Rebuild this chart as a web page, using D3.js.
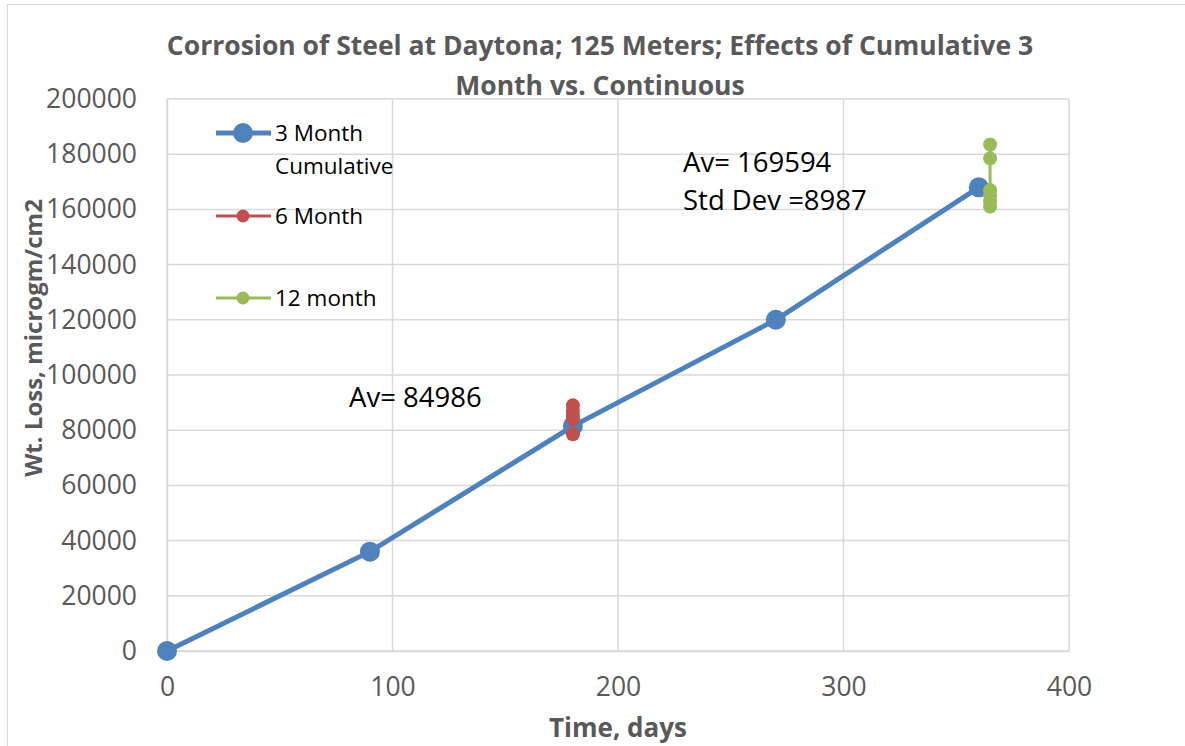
<!DOCTYPE html>
<html><head><meta charset="utf-8">
<script src="https://cdn.jsdelivr.net/npm/d3@7"></script>
<style>body{margin:0;background:#fff}svg{display:block}</style>
</head><body>
<svg id="c" width="1185" height="746"></svg>
<script>
const cumDays = [0, 90, 180, 270, 360];
const cumLoss = [0, 36000, 81500, 120000, 168000];
const sixDays = [180, 180, 180, 180, 180];
const sixLoss = [89000, 87000, 85500, 84000, 78500];
const twelveDays = [365, 365, 365, 365, 365, 365];
const twelveLoss = [183500, 178500, 167000, 165000, 163000, 161000];
const xTicks = [0, 100, 200, 300, 400];
const yTicks = [0, 20000, 40000, 60000, 80000, 100000, 120000, 140000, 160000, 180000, 200000];
const titleLines = ["Corrosion of Steel at Daytona; 125 Meters; Effects of Cumulative 3", "Month vs. Continuous"];
const legendNames = ["3 Month", "6 Month", "12 month"];

const svg = d3.select("#c");
const L = 167, R = 1069, T = 99, B = 651;
const x = d3.scaleLinear().domain([0, 400]).range([L, R]);
const y = d3.scaleLinear().domain([0, 200000]).range([B, T]);
const grey = "#595959";
const font = "'Open Sans', sans-serif";

// chart border
svg.append("rect").attr("x", 7.5).attr("y", 4.5).attr("width", 1200).attr("height", 800)
  .attr("fill", "none").attr("stroke", "#d9d9d9");

// gridlines
svg.append("g").selectAll("line").data(yTicks).join("line")
  .attr("x1", L).attr("x2", R).attr("y1", d => y(d)).attr("y2", d => y(d))
  .attr("stroke", "#d9d9d9").attr("stroke-width", 1.5);
svg.append("g").selectAll("line").data(xTicks).join("line")
  .attr("y1", T).attr("y2", B).attr("x1", d => x(d)).attr("x2", d => x(d))
  .attr("stroke", "#d9d9d9").attr("stroke-width", 1.5);

// axes
const xa = svg.append("g").attr("transform", `translate(0,${B})`)
  .call(d3.axisBottom(x).tickValues(xTicks).tickSize(0).tickPadding(26));
const ya = svg.append("g").attr("transform", `translate(${L},0)`)
  .call(d3.axisLeft(y).tickValues(yTicks).tickSize(0).tickPadding(30).tickFormat(d3.format("d")));
[xa, ya].forEach(a => {
  a.select(".domain").attr("stroke", "#d9d9d9").attr("stroke-width", 1.5);
  a.selectAll("text").attr("fill", grey).attr("font-family", font).attr("font-size", 26.5);
});

// series
const pts = (xs, ys) => xs.map((d, i) => [d, ys[i]]);
const line = d3.line().x(d => x(d[0])).y(d => y(d[1]));
const series = [
  {data: pts(cumDays, cumLoss), color: "#4f81bd", w: 5, r: 10},
  {data: pts(sixDays, sixLoss), color: "#c0504d", w: 3, r: 7},
  {data: pts(twelveDays, twelveLoss), color: "#9bbb59", w: 3, r: 7}
];
series.forEach(s => {
  svg.append("path").attr("d", line(s.data)).attr("fill", "none")
    .attr("stroke", s.color).attr("stroke-width", s.w);
  svg.append("g").selectAll("circle").data(s.data).join("circle")
    .attr("cx", d => x(d[0])).attr("cy", d => y(d[1])).attr("r", s.r).attr("fill", s.color);
});

// legend
const leg = [
  {y: 133, color: "#4f81bd", w: 5, r: 10},
  {y: 216, color: "#c0504d", w: 3, r: 6.5},
  {y: 298, color: "#9bbb59", w: 3, r: 6.5}
];
leg.forEach((l, i) => {
  svg.append("line").attr("x1", 216).attr("x2", 271).attr("y1", l.y).attr("y2", l.y)
    .attr("stroke", l.color).attr("stroke-width", l.w);
  svg.append("circle").attr("cx", 243).attr("cy", l.y).attr("r", l.r).attr("fill", l.color);
  svg.append("text").attr("x", 275).attr("y", l.y + 8).text(legendNames[i])
    .attr("font-family", font).attr("font-size", 22.5).attr("fill", "#000");
});
svg.append("text").attr("x", 275).attr("y", 174).text("Cumulative")
  .attr("font-family", font).attr("font-size", 22.5).attr("fill", "#000");

// annotations
const ann = [["Av= 84986", 349, 407], ["Av= 169594", 683, 172], ["Std Dev =8987", 683, 210]];
ann.forEach(a => svg.append("text").attr("x", a[1]).attr("y", a[2]).text(a[0])
  .attr("font-family", font).attr("font-size", 27.5).attr("fill", "#000"));

// title
titleLines.forEach((t, i) => svg.append("text").attr("x", 600).attr("y", 55 + i * 40)
  .attr("text-anchor", "middle").text(t).attr("font-family", font).attr("font-weight", "bold")
  .attr("font-size", 26.5).attr("fill", grey));

// axis titles
svg.append("text").attr("x", 618).attr("y", 737).attr("text-anchor", "middle").text("Time, days")
  .attr("font-family", font).attr("font-weight", "bold").attr("font-size", 26).attr("fill", grey);
svg.append("text").attr("transform", "translate(42,338) rotate(-90)").attr("text-anchor", "middle")
  .text("Wt. Loss, microgm/cm2").attr("font-family", font).attr("font-weight", "bold")
  .attr("font-size", 24).attr("fill", grey);
</script>
</body></html>
